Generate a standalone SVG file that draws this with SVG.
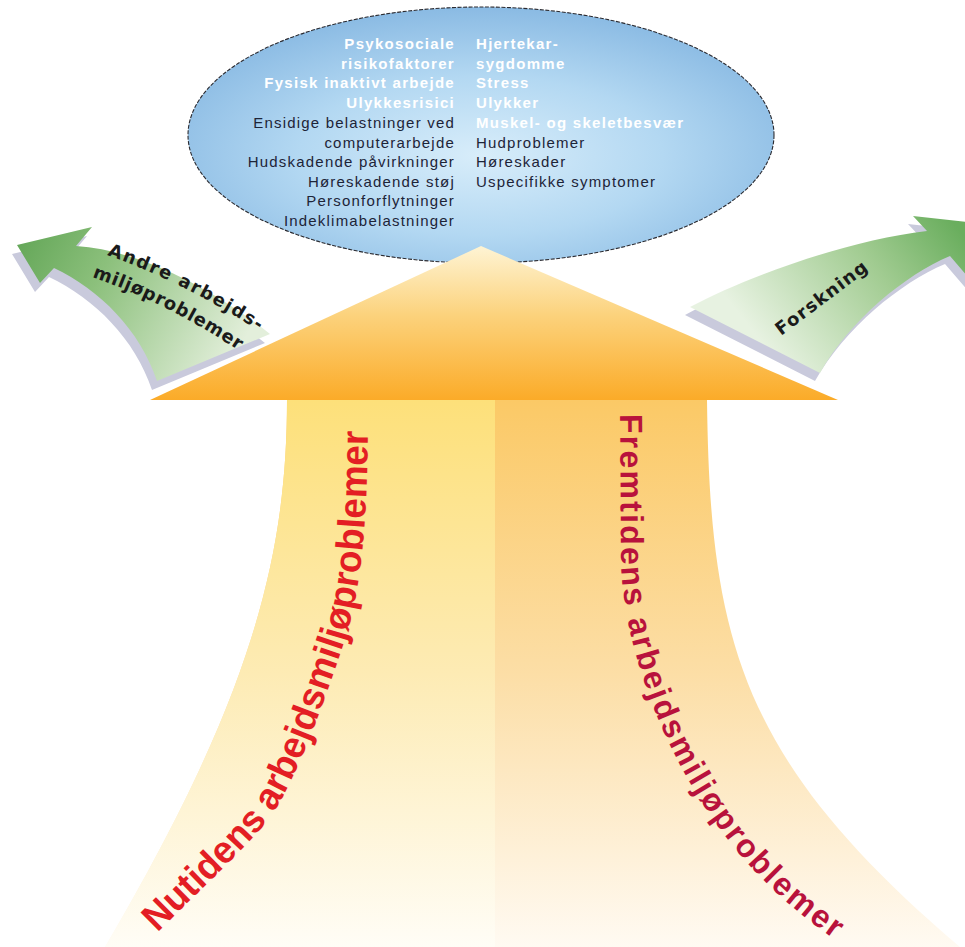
<svg xmlns="http://www.w3.org/2000/svg" width="965" height="947" viewBox="0 0 965 947">
<defs>
<style>
.lt{font-family:"Liberation Sans",Arial,sans-serif;font-size:15px;text-anchor:end;letter-spacing:1.2px}
.rt{font-family:"Liberation Sans",Arial,sans-serif;font-size:15px;text-anchor:start;letter-spacing:1.2px}
.w{fill:#ffffff;font-weight:bold;letter-spacing:1.3px}
.d{fill:#1d2438}
.lbl{font-family:"DejaVu Sans","Liberation Sans",sans-serif;font-weight:bold;fill:#1a1a1a;font-size:18px}
.big{font-family:"Liberation Sans",Arial,sans-serif;font-weight:bold}
.shadow{fill:#c9cadc}
</style>
<radialGradient id="gEll" cx="0.5" cy="0.58" r="0.62">
<stop offset="0" stop-color="#d8edfa"/>
<stop offset="0.5" stop-color="#b3d8f2"/>
<stop offset="1" stop-color="#84b6e1"/>
</radialGradient>
<linearGradient id="gTri" x1="0" y1="246" x2="0" y2="400" gradientUnits="userSpaceOnUse">
<stop offset="0" stop-color="#fef4d4"/>
<stop offset="0.45" stop-color="#fcd27c"/>
<stop offset="1" stop-color="#fbab28"/>
</linearGradient>
<linearGradient id="gStemR" x1="0" y1="400" x2="0" y2="947" gradientUnits="userSpaceOnUse">
<stop offset="0" stop-color="#fbc966"/>
<stop offset="0.5" stop-color="#fcdea6"/>
<stop offset="1" stop-color="#fffaf2"/>
</linearGradient>
<linearGradient id="gStemL" x1="0" y1="400" x2="0" y2="947" gradientUnits="userSpaceOnUse">
<stop offset="0" stop-color="#fde07a"/>
<stop offset="0.5" stop-color="#fdebb4"/>
<stop offset="1" stop-color="#fffdf6"/>
</linearGradient>
<linearGradient id="gGL" x1="20" y1="245" x2="230" y2="365" gradientUnits="userSpaceOnUse">
<stop offset="0" stop-color="#66a85a"/>
<stop offset="0.35" stop-color="#8cc07c"/>
<stop offset="1" stop-color="#e3efdb"/>
</linearGradient>
<linearGradient id="gGR" x1="955" y1="225" x2="780" y2="365" gradientUnits="userSpaceOnUse">
<stop offset="0" stop-color="#6aae5e"/>
<stop offset="0.4" stop-color="#a2cc92"/>
<stop offset="1" stop-color="#e7f2e1"/>
</linearGradient>
<clipPath id="clipL"><rect x="0" y="390" width="495" height="560"/></clipPath>
<path id="pNu" d="M 157 933 C 214 876, 255 840, 275 810 C 300 770, 325 700, 345 640 C 360 590, 367 540, 368 420"/>
<path id="pFr" d="M 620 410 L 621 560 C 623 640, 657 740, 717 825 C 757 880, 797 915, 860 957"/>
<path id="pA1" d="M 107 255 Q 191 285 271 339"/>
<path id="pA2" d="M 92 277 Q 173 305 248 357"/>
</defs>

<rect x="0" y="0" width="965" height="947" fill="#ffffff"/>

<g id="connectors">
<g id="arrow-andre">
<path class="shadow" transform="translate(-5 9)" d="M 17 245 L 92 227 L 76 246 C 140 250, 215 290, 270 334 L 157 381 C 140 330, 100 290, 54 268 L 40 283 Z"/>
<path fill="url(#gGL)" d="M 17 245 L 92 227 L 76 246 C 140 250, 215 290, 270 334 L 157 381 C 140 330, 100 290, 54 268 L 40 283 Z"/>
<text class="lbl"><textPath href="#pA1" textLength="170" lengthAdjust="spacing">Andre arbejds-</textPath></text>
<text class="lbl"><textPath href="#pA2" textLength="164" lengthAdjust="spacing">miljøproblemer</textPath></text>
</g>
<g id="arrow-forskning">
<path class="shadow" transform="translate(-5 8)" d="M 690 307 C 750 275, 850 240, 927 231 L 913 216 L 1005 226 L 975 285 L 950 256 C 905 275, 850 320, 820 373 Z"/>
<path fill="url(#gGR)" d="M 690 307 C 750 275, 850 240, 927 231 L 913 216 L 1005 226 L 975 285 L 950 256 C 905 275, 850 320, 820 373 Z"/>
<text class="lbl" x="781" y="336" transform="rotate(-37 781 336)" textLength="110" lengthAdjust="spacing">Forskning</text>
</g>
</g>

<g id="problems-ellipse">
<ellipse cx="481" cy="135" rx="293" ry="128" fill="url(#gEll)" stroke="#2a2a30" stroke-width="1.1" stroke-dasharray="4 1.5"/>
<text class="lt w" x="455" y="49">Psykosociale</text>
<text class="lt w" x="455" y="69">risikofaktorer</text>
<text class="lt w" x="455" y="88">Fysisk inaktivt arbejde</text>
<text class="lt w" x="455" y="108">Ulykkesrisici</text>
<text class="lt d" x="455" y="128">Ensidige belastninger ved</text>
<text class="lt d" x="455" y="148">computerarbejde</text>
<text class="lt d" x="455" y="167">Hudskadende påvirkninger</text>
<text class="lt d" x="455" y="187">Høreskadende støj</text>
<text class="lt d" x="455" y="206">Personforflytninger</text>
<text class="lt d" x="455" y="226">Indeklimabelastninger</text>
<text class="rt w" x="476" y="49">Hjertekar-</text>
<text class="rt w" x="476" y="69">sygdomme</text>
<text class="rt w" x="476" y="88">Stress</text>
<text class="rt w" x="476" y="108">Ulykker</text>
<text class="rt w" x="476" y="128">Muskel- og skeletbesvær</text>
<text class="rt d" x="476" y="148">Hudproblemer</text>
<text class="rt d" x="476" y="167">Høreskader</text>
<text class="rt d" x="476" y="187">Uspecifikke symptomer</text>
</g>

<g id="main-arrow">
<path fill="url(#gStemR)" d="M 287 400 L 707 400 C 710 640, 740 760, 960 947 L 105 947 C 250 700, 287 560, 287 400 Z"/>
<path fill="url(#gStemL)" clip-path="url(#clipL)" d="M 287 400 L 707 400 C 710 640, 740 760, 960 947 L 105 947 C 250 700, 287 560, 287 400 Z"/>
<polygon fill="url(#gTri)" points="481,246 838,400 150,400"/>
<text class="big" font-size="38" fill="#e31e24"><textPath href="#pNu" textLength="566" lengthAdjust="spacingAndGlyphs">Nutidens arbejdsmiljøproblemer</textPath></text>
<text class="big" font-size="32" fill="#b8123c"><textPath href="#pFr" startOffset="4" textLength="596" lengthAdjust="spacing">Fremtidens arbejdsmiljøproblemer</textPath></text>
</g>
</svg>
